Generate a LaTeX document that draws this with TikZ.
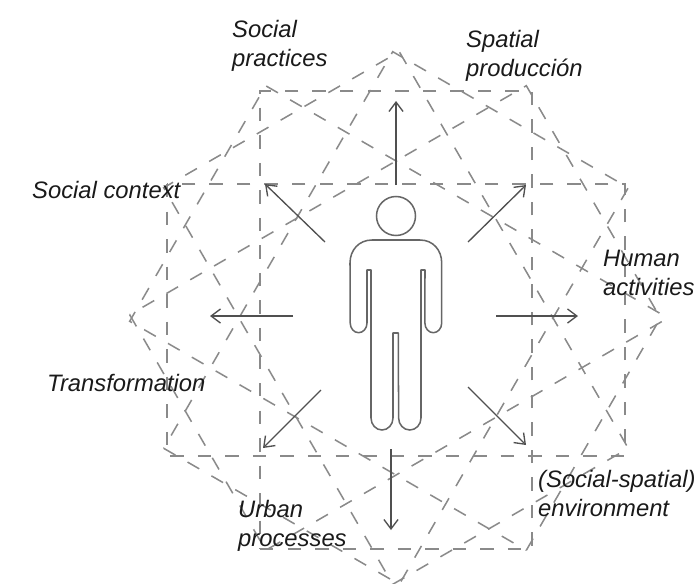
\documentclass[tikz,border=0pt]{standalone}
\usepackage{fontspec}
\setmainfont{Liberation Sans}
\usetikzlibrary{arrows.meta}
\definecolor{dashgray}{HTML}{8A8A8A}
\definecolor{bodygray}{HTML}{666666}
\definecolor{arrowgray}{HTML}{505050}
\definecolor{labelgray}{HTML}{1A1A1A}
\begin{document}
\begin{tikzpicture}[
		x = .03cm, y = -.03cm,
		dashbox/.style = {draw = dashgray, line width = 1.3pt, dash pattern = on 11.5pt off 12pt},
		person/.style = {draw = bodygray, line width = 1.3pt},
		ray/.style = {draw = arrowgray, line width = 1.15pt, -{Straight Barb[length = 8pt, width = 12pt, line width = 1.15pt]}},
		lbl/.style = {font = \itshape\fontsize{20.3}{24.7}\selectfont, text = labelgray, align = left, anchor = base west, inner sep = 0pt}
		]
		\useasboundingbox (0,0) rectangle (695,583);
		% Rotated frames
		\foreach \ang/\cy in {0/320,30/318,60/318,90/320,120/318,150/318}
		{
			\coordinate (ctr) at (396,\cy);
			\draw[dashbox, rotate around = {\ang:(ctr)}] (167,\cy-136) rectangle (625,\cy+136);
		}
		% Person
		\node[person, circle, minimum size = 1.17cm, inner sep = 0pt] (head) at (396,216) {};
		\draw[person, line join = round] (372,240) -- (420,240)
			.. controls (433,240) and (441.7,250) .. (441.7,263) -- (441.7,323)
			arc[start angle = 0, end angle = 180, x radius = 8.4, y radius = 9.7] -- (425,270) -- (421,270) -- (421,418)
			arc[start angle = 0, end angle = 180, x radius = 11.2, y radius = 12] -- (398.3,333) -- (393,333) -- (393,418)
			arc[start angle = 0, end angle = 180, x radius = 11, y radius = 12] -- (371,270) -- (367,270) -- (367,323)
			arc[start angle = 0, end angle = 180, x radius = 8.4, y radius = 9.7] -- (350,263)
			.. controls (350,250) and (359,240) .. (372,240) -- cycle;
		% Arrows
		\foreach \nam/\xa/\ya/\xb/\yb in {up/396/185/396/101, ne/468/242/526/185, ea/496/316/578/316, se/468/387/526/445, so/391/449/391/530, sw/321/390/263/448, we/293/316/210/316, nw/325/242/265/184}
		{
			\coordinate (\nam A) at (\xa,\ya);
			\coordinate (\nam B) at (\xb,\yb);
			\draw[ray] (\nam A) -- (\nam B);
		}
		% Labels
		\node[lbl] (practices) at (232,66) {Social\\practices};
		\node[lbl] (production) at (466,76) {Spatial\\producción};
		\node[lbl] (context) at (32,198) {Social context};
		\node[lbl] (activities) at (603,295) {Human\\activities};
		\node[lbl] (transformation) at (47,391) {Transformation};
		\node[lbl] (processes) at (238,546) {Urban\\processes};
		\node[lbl] (environment) at (538,516) {(Social-spatial)\\environment};
	\end{tikzpicture}
\end{document}
